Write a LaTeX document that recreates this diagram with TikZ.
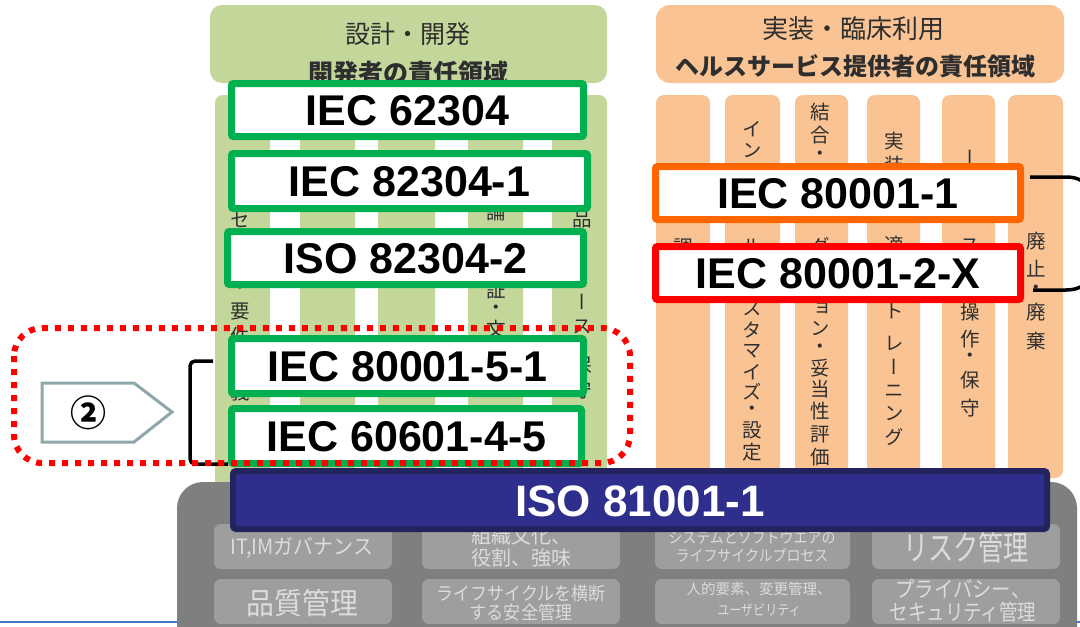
\documentclass[tikz,border=0pt]{standalone}
\usepackage{fontspec}
\usepackage{graphicx}
\setmainfont{Liberation Sans}
\newfontfamily\jp{Noto Sans CJK JP}
\newfontfamily\jpv[RawFeature=+vert]{Noto Sans CJK JP}
\definecolor{hdrgreen}{HTML}{C4D79B}
\definecolor{hdrorange}{HTML}{F9C393}
\definecolor{boxgreen}{HTML}{00B050}
\definecolor{boxorange}{HTML}{FF6600}
\definecolor{boxred}{HTML}{FF0000}
\definecolor{navyfill}{HTML}{2E2F8C}
\definecolor{navyline}{HTML}{22235F}
\definecolor{panelgray}{HTML}{7F7F7F}
\definecolor{cellgray}{HTML}{9E9E9E}
\definecolor{celltext}{HTML}{DCDCDC}
\definecolor{inktext}{HTML}{2E2E2E}
\definecolor{pentaline}{HTML}{8FA7AA}
\definecolor{edgeblue}{HTML}{3F7CC4}
\newcommand\sx[2]{\scalebox{#1}[1]{#2}}
\begin{document}
\begin{tikzpicture}[x=1pt,y=-1pt,
  every node/.style={inner sep=0pt},
  colch/.style={font=\jpv\fontsize{19.5}{19.5}\selectfont, text=inktext},
  hdrtxt/.style={text=inktext},
  gbox/.style={draw=boxgreen, line width=7pt, fill=white, rounded corners=2pt,
    font=\bfseries\fontsize{43}{43}\selectfont, text height=31pt, text depth=0pt},
  obox/.style={gbox, draw=boxorange},
  rbox/.style={gbox, draw=boxred},
  isobox/.style={draw=navyline, line width=6pt, fill=navyfill, rounded corners=3pt,
    text=white, font=\bfseries\fontsize{44}{44}\selectfont, text height=32pt, text depth=0pt},
  cell/.style={fill=cellgray, rounded corners=7pt},
  celltxt/.style={text=celltext, align=center}]
\useasboundingbox (0,0) rectangle (1080,627);
\fill[white] (0,0) rectangle (1080,627);
\draw[edgeblue, line width=2pt] (0,622) -- (1080,622);

% green area
\fill[hdrgreen, rounded corners=12pt] (210,5) rectangle (607,83);
\foreach \a/\b in {215/270, 300/355, 378/435, 468/523, 552/607}
  \fill[hdrgreen, rounded corners=8pt] (\a,95) rectangle (\b,488);
% orange area
\fill[hdrorange, rounded corners=14pt] (656,5) rectangle (1064,83);
\foreach \a/\b in {656/710, 725/780, 795/848, 867/920, 942/995, 1008/1063}
  \fill[hdrorange, rounded corners=8pt] (\a,95) rectangle (\b,478);

% header texts
\node[hdrtxt, font=\jp\fontsize{25}{25}\selectfont] (h1) at (408,34) {設計・開発};
\node[hdrtxt, font=\jp\bfseries\fontsize{25}{25}\selectfont] (h2) at (408,73) {開発者の責任領域};
\node[hdrtxt, font=\jp\fontsize{26}{26}\selectfont] (h3) at (853,29) {実装・臨床利用};
\node[hdrtxt, font=\jp\bfseries\fontsize{24}{24}\selectfont] (h4) at (855,66) {ヘルスサービス提供者の責任領域};

% green column texts
\foreach \c/\yy in {セ/220,・/290,要/312,件/336,義/392} \node[colch] at (240,\yy) {\c};
\foreach \c/\yy in {論/212,証/290,・/310,文/329} \node[colch] at (496,\yy) {\c};
\foreach \c/\yy in {製/178,品/220,リ/252,ー/302,ス/327,・/346,保/365,守/390} \node[colch] at (582,\yy) {\c};
% orange column texts
\foreach \c/\yy in {調/247} \node[colch] at (683,\yy) {\c};
\foreach \c/\yy in {イ/129,ン/151,ル/246,ス/309,タ/330,マ/351,イ/372,ズ/392,・/411,設/430,定/452} \node[colch] at (752,\yy) {\c};
\foreach \c/\yy in {結/112,合/135,・/156,グ/246,ョ/309,ン/329,・/349,妥/368,当/389,性/411,評/434,価/457} \node[colch] at (820,\yy) {\c};
\foreach \c/\yy in {実/141,装/165,適/245,ト/311,レ/343,ー/367,ニ/391,ン/414,グ/437} \node[colch] at (894,\yy) {\c};
\foreach \c/\yy in {ー/158,ス/246,操/312,作/339,・/358,保/380,守/408} \node[colch] at (970,\yy) {\c};
\foreach \c/\yy in {廃/241,止/269,・/290,廃/312,棄/341} \node[colch] at (1036,\yy) {\c};

% gray panel
\fill[panelgray, rounded corners=26pt] (177,482) rectangle (1077,660);
\fill[cell] (214,524) rectangle (392,569);
\fill[cell] (422,524) rectangle (620,569);
\fill[cell] (655,524) rectangle (850,569);
\fill[cell] (872,524) rectangle (1060,569);
\fill[cell] (214,579) rectangle (392,624);
\fill[cell] (422,579) rectangle (620,624);
\fill[cell] (655,579) rectangle (850,624);
\fill[cell] (872,579) rectangle (1060,624);
\node[celltxt, font=\jp\fontsize{21}{21}\selectfont] (c1) at (302,548) {\sx{0.95}{IT,IMガバナンス}};
\node[celltxt, font=\jp\fontsize{20}{22}\selectfont] (c2) at (521,547) {組織文化、\\役割、強味};
\node[celltxt, font=\jp\fontsize{15.5}{18}\selectfont] (c3) at (752,547) {\sx{0.9}{システムとソフトウエアの}\\\sx{0.9}{ライフサイクルプロセス}};
\node[celltxt, font=\jp\fontsize{34}{34}\selectfont] (c4) at (966,548) {\sx{0.74}{リスク管理}};
\node[celltxt, font=\jp\fontsize{30}{30}\selectfont] (c5) at (302.5,603) {\sx{0.93}{品質管理}};
\node[celltxt, font=\jp\fontsize{18.5}{19}\selectfont] (c6) at (521,603) {\sx{0.92}{ライフサイクルを横断}\\\sx{0.92}{する安全管理}};
\node[celltxt, font=\jp\fontsize{14.5}{21}\selectfont] (c7) at (759,599) {\sx{1.0}{人的要素、変更管理、}\\\sx{0.83}{ユーザビリティ}};
\node[celltxt, font=\jp\fontsize{22}{23}\selectfont] (c8) at (963,600.5) {\sx{0.88}{プライバシー、}\\\sx{0.84}{セキュリティ管理}};

% standard boxes
\node[gbox, minimum width=352pt, minimum height=53pt] (s62304) at (407.5,110) {IEC 62304};
\node[gbox, minimum width=356pt, minimum height=55pt] (s823041) at (409.5,181) {IEC 82304-1};
\node[gbox, minimum width=356pt, minimum height=53pt] (s823042) at (405.5,258) {ISO 82304-2};
\node[gbox, minimum width=352pt, minimum height=55pt] (s8000151) at (407.5,366) {IEC 80001-5-1};
\node[gbox, minimum width=350pt, minimum height=55pt] (s6060145) at (406.5,436) {IEC 60601-4-5};
\node[obox, minimum width=365pt, minimum height=53pt] (s800011) at (838,193) {IEC 80001-1};
\node[rbox, minimum width=365pt, minimum height=53pt] (s80001x) at (838,273) {IEC 80001-2-X};

% right bracket
\draw[black, line width=3.5pt]
  ([xshift=6pt,yshift=16pt]s800011.east) -- (1066,177)
  .. controls (1080,177) and (1089,183) .. (1089,196) -- (1089,272)
  .. controls (1089,284) and (1080,290) .. (1066,290)
  -- ([xshift=9pt,yshift=-17pt]s80001x.east);

% left bracket
\draw[black, line width=3.5pt, rounded corners=5pt]
  ([xshift=-15pt,yshift=5pt]s8000151.west) -- (190,361) -- (190,464)
  -- ([yshift=-28pt]s6060145.west);

% pentagon with circled number
\draw[pentaline, line width=3pt, fill=white] (42,383) -- (134,383) -- (172,412) -- (134,442) -- (42,442) -- cycle;
\node[font=\jp\bfseries\fontsize{36}{36}\selectfont] (num2) at (88,413) {②};

% dotted frame
\draw[boxred, line width=6pt, dash pattern=on 6pt off 7pt, rounded corners=28pt] (14,328) rectangle (630,463);

% ISO 81001-1
\node[isobox, minimum width=814pt, minimum height=58pt] (iso) at (640,500) {ISO 81001-1};
\end{tikzpicture}
\end{document}
